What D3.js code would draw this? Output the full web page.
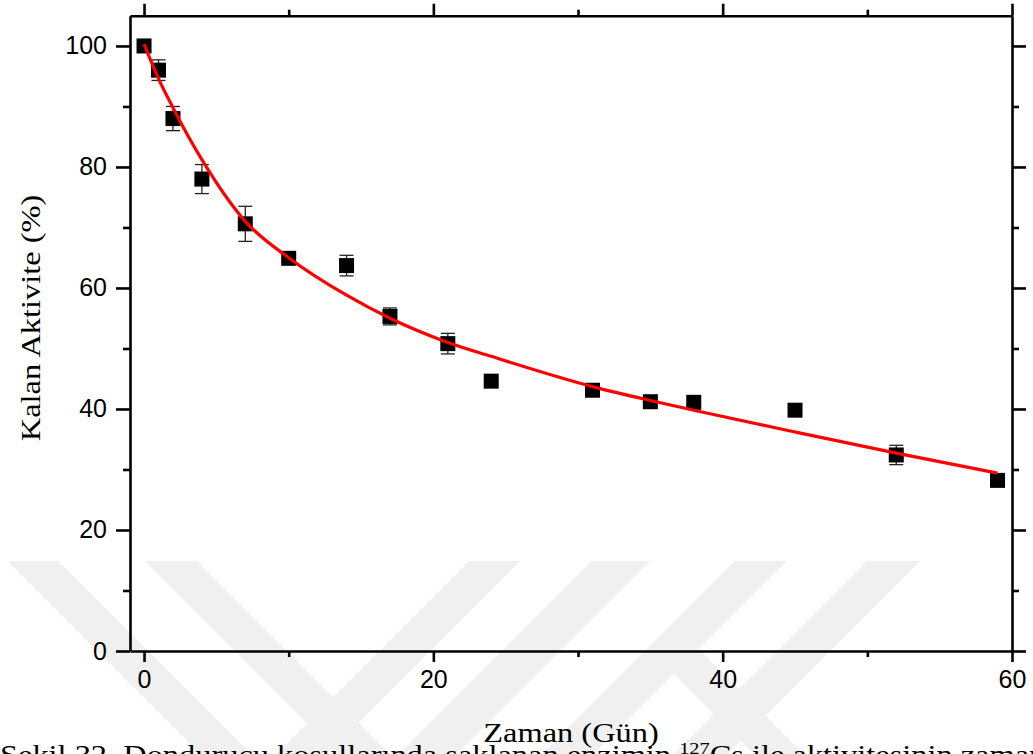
<!DOCTYPE html>
<head>
<meta charset="utf-8">
<title>Kalan Aktivite</title>
<script src="https://d3js.org/d3.v7.min.js"></script>
<style>
  body { margin: 0; background: #fff; }
  svg { display: block; }
</style>
</head>
<body>
<div id="chart"></div>
<script>
// measured points
var days = [0, 1, 2, 4, 7, 10, 14, 17, 21, 24, 31, 35, 38, 45, 52, 59];
var activity = [100, 96.0, 88.0, 78.0, 70.6, 64.9, 63.7, 55.3, 50.8, 44.6, 43.1, 41.2, 41.1, 39.8, 32.4, 28.2];
var activityErr = [0.3, 1.7, 2.0, 2.4, 2.9, 0.5, 1.7, 1.4, 1.7, 0.5, 1.0, 0.5, 0.8, 0.4, 1.6, 0.8];

// fitted curve
var fitDays = [0, 1, 2, 4, 7, 10, 14, 17, 21, 24, 31, 35, 38, 45, 52, 59];
var fitActivity = [100.3, 94.6, 89.8, 81.2, 71.0, 65.0, 58.8, 55.0, 51.0, 48.7, 43.7, 41.4, 39.8, 36.2, 32.7, 29.4];

// ticks
var xMajor = [0, 20, 40, 60];
var xMinor = [10, 30, 50];
var yMajor = [0, 20, 40, 60, 80, 100];
var yMinor = [10, 30, 50, 70, 90];

var width = 1033, height = 754;
var plotLeft = 130, plotRight = 1012, plotTop = 15.7, plotBottom = 651;

var svg = d3.select("#chart").append("svg")
  .attr("width", width)
  .attr("height", height);

// faint watermark bands behind the figure
var bands = [
  [[7,561],[58,561],[251,754],[200,754]],
  [[145,561],[197,561],[390,754],[338,754]],
  [[469,561],[520,561],[327,754],[276,754]],
  [[592,561],[650,561],[457,754],[399,754]],
  [[735,561],[787,561],[594,754],[542,754]],
  [[867,561],[920,561],[727,754],[674,754]],
  [[650,650],[700,650],[804,754],[754,754]]
];
svg.append("g")
  .selectAll("polygon")
  .data(bands)
  .enter()
  .append("polygon")
    .attr("points", function(d) { return d.map(function(p) { return p.join(","); }).join(" "); })
    .style("fill", "#f0f0f0");

var x = d3.scaleLinear().domain([-0.97, 60]).range([plotLeft, plotRight]);
var y = d3.scaleLinear().domain([0, 105]).range([plotBottom, plotTop]);

function styleAxis(g) {
  g.selectAll("path.domain").attr("stroke", "#000").attr("stroke-width", 2.6);
  g.selectAll(".tick line").attr("stroke", "#000").attr("stroke-width", 2.6);
  g.selectAll(".tick text")
    .attr("fill", "#000")
    .style("font-family", "'Liberation Sans', Arial, sans-serif")
    .style("font-size", "25px");
}

// bottom axis
svg.append("g")
  .attr("transform", "translate(0," + plotBottom + ")")
  .call(d3.axisBottom(x).tickValues(xMajor).tickSize(11).tickSizeOuter(0).tickPadding(8).tickFormat(d3.format("d")))
  .call(styleAxis);
svg.append("g")
  .attr("transform", "translate(0," + plotBottom + ")")
  .call(d3.axisBottom(x).tickValues(xMinor).tickSize(6).tickFormat(""))
  .call(function(g) { g.select(".domain").remove(); })
  .call(styleAxis);

// top axis
svg.append("g")
  .attr("transform", "translate(0," + plotTop + ")")
  .call(d3.axisTop(x).tickValues(xMajor).tickSize(12).tickSizeOuter(0).tickFormat(""))
  .call(styleAxis);
svg.append("g")
  .attr("transform", "translate(0," + plotTop + ")")
  .call(d3.axisTop(x).tickValues(xMinor).tickSize(6).tickFormat(""))
  .call(function(g) { g.select(".domain").remove(); })
  .call(styleAxis);

// left axis
svg.append("g")
  .attr("transform", "translate(" + plotLeft + ",0)")
  .call(d3.axisLeft(y).tickValues(yMajor).tickSize(14).tickSizeOuter(0).tickPadding(9).tickFormat(d3.format("d")))
  .call(styleAxis);
svg.append("g")
  .attr("transform", "translate(" + plotLeft + ",0)")
  .call(d3.axisLeft(y).tickValues(yMinor).tickSize(7).tickFormat(""))
  .call(function(g) { g.select(".domain").remove(); })
  .call(styleAxis);

// right axis
svg.append("g")
  .attr("transform", "translate(" + plotRight + ",0)")
  .call(d3.axisRight(y).tickValues(yMajor).tickSize(14).tickSizeOuter(0).tickFormat(""))
  .call(styleAxis);
svg.append("g")
  .attr("transform", "translate(" + plotRight + ",0)")
  .call(d3.axisRight(y).tickValues(yMinor).tickSize(7).tickFormat(""))
  .call(function(g) { g.select(".domain").remove(); })
  .call(styleAxis);

var points = days.map(function(d, i) {
  return { day: d, value: activity[i], err: activityErr[i] };
});

// error bars
var eb = svg.append("g")
  .selectAll("g")
  .data(points)
  .enter()
  .append("g")
    .attr("stroke", "#222")
    .attr("stroke-width", 1.3);
eb.append("line")
  .attr("x1", function(d) { return x(d.day); })
  .attr("x2", function(d) { return x(d.day); })
  .attr("y1", function(d) { return y(d.value + d.err); })
  .attr("y2", function(d) { return y(d.value - d.err); });
eb.append("line")
  .attr("x1", function(d) { return x(d.day) - 7; })
  .attr("x2", function(d) { return x(d.day) + 7; })
  .attr("y1", function(d) { return y(d.value + d.err); })
  .attr("y2", function(d) { return y(d.value + d.err); });
eb.append("line")
  .attr("x1", function(d) { return x(d.day) - 7; })
  .attr("x2", function(d) { return x(d.day) + 7; })
  .attr("y1", function(d) { return y(d.value - d.err); })
  .attr("y2", function(d) { return y(d.value - d.err); });

// square markers
svg.append("g")
  .selectAll("rect")
  .data(points)
  .enter()
  .append("rect")
    .attr("x", function(d) { return x(d.day) - 7.5; })
    .attr("y", function(d) { return y(d.value) - 7.5; })
    .attr("width", 15)
    .attr("height", 15)
    .style("fill", "#000");

// fit line
var fit = fitDays.map(function(d, i) { return [d, fitActivity[i]]; });
svg.append("path")
  .datum(fit)
  .attr("d", d3.line()
    .x(function(d) { return x(d[0]); })
    .y(function(d) { return y(d[1]); })
    .curve(d3.curveMonotoneX))
  .style("fill", "none")
  .style("stroke", "#ff0000")
  .style("stroke-width", 3.2);

// axis titles
var serif = "'Liberation Serif', 'Times New Roman', serif";
svg.append("text")
  .attr("transform", "translate(" + ((plotLeft + plotRight) / 2) + ",742) scale(1.2,1)")
  .attr("text-anchor", "middle")
  .style("font-family", serif)
  .style("font-size", "27px")
  .text("Zaman (Gün)");

svg.append("text")
  .attr("transform", "translate(40,318) rotate(-90) scale(1.2,1)")
  .attr("text-anchor", "middle")
  .style("font-family", serif)
  .style("font-size", "27px")
  .text("Kalan Aktivite (%)");

// figure caption, cut by the bottom edge
var cap = svg.append("text")
  .attr("transform", "translate(0,764) scale(1.2,1)")
  .style("font-family", serif)
  .style("font-size", "27px");
cap.append("tspan").text("Şekil 32. Dondurucu koşullarında saklanan enzimin ");
cap.append("tspan").attr("dy", -10).style("font-size", "17px").text("127");
cap.append("tspan").attr("dy", 10).text("Cs ile aktivitesinin zamanla değişimi");
</script>
</body>
